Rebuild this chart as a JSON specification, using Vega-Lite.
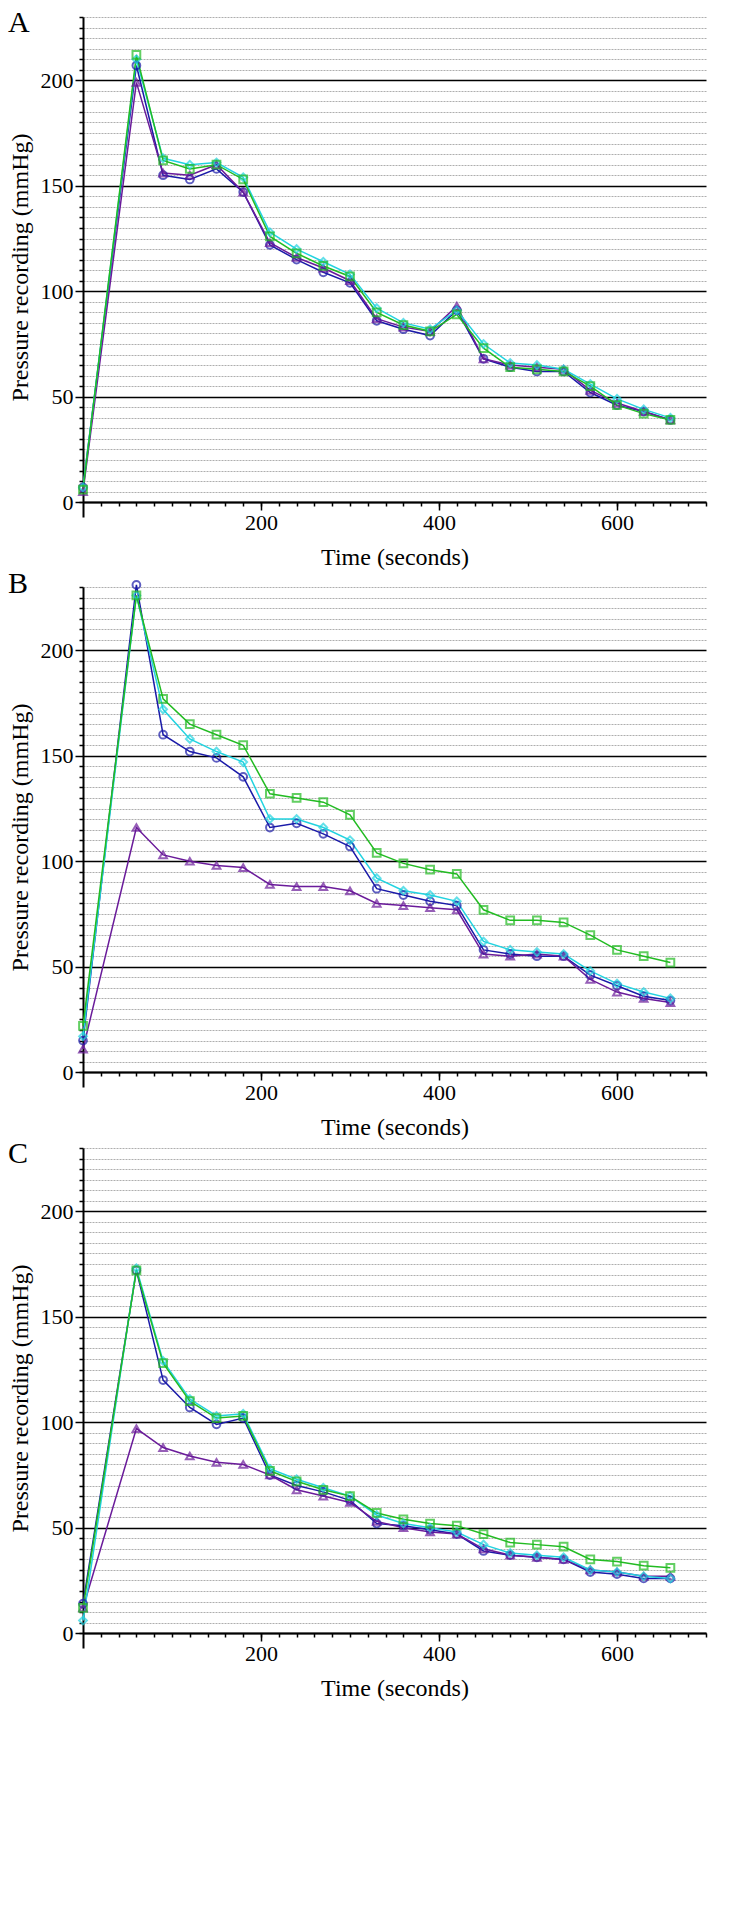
{
"$schema":"https://vega.github.io/schema/vega-lite/v6.json",
"padding":{"left":8,"top":8,"right":10,"bottom":5},
"spacing":0,
"config":{"font":"Liberation Serif","view":{"stroke":null},
 "axis":{"labelFont":"Liberation Serif","titleFont":"Liberation Serif","labelFontSize":22,"titleFontSize":24,"titleFontWeight":"normal","labelColor":"black","titleColor":"black","domainColor":"black","domainWidth":2,"tickColor":"black","tickWidth":1.5},
 "title":{"font":"Liberation Serif","fontSize":30,"fontWeight":"normal","anchor":"start","frame":"bounds","offset":-22,"color":"black"},
 "legend":{"labelFont":"Liberation Serif","labelFontSize":24,"labelColor":"black"}},
"datasets":{"d":[
{"p":"A","t":0,"Compass":7,"Stryker":5,"Meritrans":7,"Arterial line":6},
{"p":"A","t":60,"Compass":207,"Stryker":199,"Meritrans":210,"Arterial line":212},
{"p":"A","t":90,"Compass":155,"Stryker":156,"Meritrans":163,"Arterial line":162},
{"p":"A","t":120,"Compass":153,"Stryker":155,"Meritrans":160,"Arterial line":158},
{"p":"A","t":150,"Compass":158,"Stryker":160,"Meritrans":161,"Arterial line":160},
{"p":"A","t":180,"Compass":147,"Stryker":147,"Meritrans":154,"Arterial line":153},
{"p":"A","t":210,"Compass":122,"Stryker":123,"Meritrans":128,"Arterial line":126},
{"p":"A","t":240,"Compass":115,"Stryker":116,"Meritrans":120,"Arterial line":118},
{"p":"A","t":270,"Compass":109,"Stryker":111,"Meritrans":114,"Arterial line":112},
{"p":"A","t":300,"Compass":104,"Stryker":105,"Meritrans":108,"Arterial line":107},
{"p":"A","t":330,"Compass":86,"Stryker":87,"Meritrans":92,"Arterial line":90},
{"p":"A","t":360,"Compass":82,"Stryker":83,"Meritrans":85,"Arterial line":84},
{"p":"A","t":390,"Compass":79,"Stryker":81,"Meritrans":82,"Arterial line":81},
{"p":"A","t":420,"Compass":91,"Stryker":93,"Meritrans":91,"Arterial line":89},
{"p":"A","t":450,"Compass":68,"Stryker":68,"Meritrans":75,"Arterial line":73},
{"p":"A","t":480,"Compass":64,"Stryker":65,"Meritrans":66,"Arterial line":64},
{"p":"A","t":510,"Compass":62,"Stryker":64,"Meritrans":65,"Arterial line":63},
{"p":"A","t":540,"Compass":62,"Stryker":63,"Meritrans":63,"Arterial line":62},
{"p":"A","t":570,"Compass":52,"Stryker":53,"Meritrans":56,"Arterial line":55},
{"p":"A","t":600,"Compass":46,"Stryker":47,"Meritrans":49,"Arterial line":46},
{"p":"A","t":630,"Compass":43,"Stryker":43,"Meritrans":44,"Arterial line":42},
{"p":"A","t":660,"Compass":39,"Stryker":39,"Meritrans":40,"Arterial line":39},
{"p":"B","t":0,"Compass":15,"Stryker":11,"Meritrans":17,"Arterial line":22},
{"p":"B","t":60,"Compass":231,"Stryker":116,"Meritrans":226,"Arterial line":226},
{"p":"B","t":90,"Compass":160,"Stryker":103,"Meritrans":172,"Arterial line":177},
{"p":"B","t":120,"Compass":152,"Stryker":100,"Meritrans":158,"Arterial line":165},
{"p":"B","t":150,"Compass":149,"Stryker":98,"Meritrans":152,"Arterial line":160},
{"p":"B","t":180,"Compass":140,"Stryker":97,"Meritrans":147,"Arterial line":155},
{"p":"B","t":210,"Compass":116,"Stryker":89,"Meritrans":120,"Arterial line":132},
{"p":"B","t":240,"Compass":118,"Stryker":88,"Meritrans":120,"Arterial line":130},
{"p":"B","t":270,"Compass":113,"Stryker":88,"Meritrans":116,"Arterial line":128},
{"p":"B","t":300,"Compass":107,"Stryker":86,"Meritrans":110,"Arterial line":122},
{"p":"B","t":330,"Compass":87,"Stryker":80,"Meritrans":92,"Arterial line":104},
{"p":"B","t":360,"Compass":84,"Stryker":79,"Meritrans":86,"Arterial line":99},
{"p":"B","t":390,"Compass":81,"Stryker":78,"Meritrans":84,"Arterial line":96},
{"p":"B","t":420,"Compass":79,"Stryker":77,"Meritrans":81,"Arterial line":94},
{"p":"B","t":450,"Compass":58,"Stryker":56,"Meritrans":62,"Arterial line":77},
{"p":"B","t":480,"Compass":56,"Stryker":55,"Meritrans":58,"Arterial line":72},
{"p":"B","t":510,"Compass":55,"Stryker":56,"Meritrans":57,"Arterial line":72},
{"p":"B","t":540,"Compass":55,"Stryker":55,"Meritrans":56,"Arterial line":71},
{"p":"B","t":570,"Compass":46,"Stryker":44,"Meritrans":48,"Arterial line":65},
{"p":"B","t":600,"Compass":41,"Stryker":38,"Meritrans":42,"Arterial line":58},
{"p":"B","t":630,"Compass":36,"Stryker":35,"Meritrans":38,"Arterial line":55},
{"p":"B","t":660,"Compass":34,"Stryker":33,"Meritrans":35,"Arterial line":52},
{"p":"C","t":0,"Compass":14,"Stryker":12,"Meritrans":6,"Arterial line":12},
{"p":"C","t":60,"Compass":172,"Stryker":97,"Meritrans":173,"Arterial line":172},
{"p":"C","t":90,"Compass":120,"Stryker":88,"Meritrans":129,"Arterial line":128},
{"p":"C","t":120,"Compass":107,"Stryker":84,"Meritrans":111,"Arterial line":110},
{"p":"C","t":150,"Compass":99,"Stryker":81,"Meritrans":103,"Arterial line":102},
{"p":"C","t":180,"Compass":102,"Stryker":80,"Meritrans":104,"Arterial line":103},
{"p":"C","t":210,"Compass":75,"Stryker":75,"Meritrans":78,"Arterial line":77},
{"p":"C","t":240,"Compass":70,"Stryker":68,"Meritrans":73,"Arterial line":72},
{"p":"C","t":270,"Compass":67,"Stryker":65,"Meritrans":69,"Arterial line":68},
{"p":"C","t":300,"Compass":63,"Stryker":62,"Meritrans":65,"Arterial line":65},
{"p":"C","t":330,"Compass":52,"Stryker":53,"Meritrans":56,"Arterial line":57},
{"p":"C","t":360,"Compass":51,"Stryker":50,"Meritrans":52,"Arterial line":54},
{"p":"C","t":390,"Compass":49,"Stryker":48,"Meritrans":50,"Arterial line":52},
{"p":"C","t":420,"Compass":47,"Stryker":47,"Meritrans":48,"Arterial line":51},
{"p":"C","t":450,"Compass":39,"Stryker":40,"Meritrans":42,"Arterial line":47},
{"p":"C","t":480,"Compass":37,"Stryker":37,"Meritrans":38,"Arterial line":43},
{"p":"C","t":510,"Compass":36,"Stryker":36,"Meritrans":37,"Arterial line":42},
{"p":"C","t":540,"Compass":35,"Stryker":35,"Meritrans":36,"Arterial line":41},
{"p":"C","t":570,"Compass":29,"Stryker":30,"Meritrans":30,"Arterial line":35},
{"p":"C","t":600,"Compass":28,"Stryker":29,"Meritrans":29,"Arterial line":34},
{"p":"C","t":630,"Compass":26,"Stryker":27,"Meritrans":27,"Arterial line":32},
{"p":"C","t":660,"Compass":26,"Stryker":27,"Meritrans":26,"Arterial line":31}
]},
"vconcat":[
{"title":"A","width":623,"height":500,"data":{"name":"d"},
 "transform":[{"filter":"datum.p==='A'"},{"fold":["Compass","Stryker","Meritrans","Arterial line"],"as":["device","value"]}],
 "resolve":{"axis":{"y":"independent","x":"independent"}},
 "layer":[
 {"mark":{"type":"line","strokeWidth":1.5},"encoding":{
  "x":{"field":"t","type":"quantitative","scale":{"domain":[0,700],"nice":false},"axis":{"orient":"bottom","offset":-15,"values":[200,400,600],"grid":false,"tickSize":8,"title":"Time (seconds)","titlePadding":12}},
  "y":{"field":"value","type":"quantitative","scale":{"domain":[-7,230],"nice":false,"zero":false},"axis":{"orient":"left","values":[0,50,100,150,200],"grid":true,"gridColor":"black","gridWidth":1.5,"tickSize":8,"title":"Pressure recording (mmHg)","titlePadding":8}},
  "color":{"field":"device","type":"nominal","sort":["Compass","Stryker","Meritrans","Arterial line"],"scale":{"domain":["Compass","Stryker","Meritrans","Arterial line"],"range":["#1a1aa8","#6a1b9a","#22d3e0","#22bb22"]},"legend":null}}},
 {"mark":{"type":"point","filled":false,"strokeWidth":2,"size":60},"encoding":{
  "x":{"field":"t","type":"quantitative","axis":{"orient":"bottom","offset":-15,"values":[20,40,60,80,100,120,140,160,180,200,220,240,260,280,300,320,340,360,380,400,420,440,460,480,500,520,540,560,580,600,620,640,660,680,700],"labels":false,"domain":false,"tickSize":4,"grid":false,"title":null}},
  "y":{"field":"value","type":"quantitative","axis":{"orient":"left","values":[0,5,10,15,20,25,30,35,40,45,55,60,65,70,75,80,85,90,95,105,110,115,120,125,130,135,140,145,155,160,165,170,175,180,185,190,195,205,210,215,220,225,230],"labels":false,"domain":false,"tickSize":4,"grid":true,"gridColor":"#999","gridDash":[2,1],"gridWidth":0.8,"title":null}},
  "color":{"field":"device","type":"nominal","sort":["Compass","Stryker","Meritrans","Arterial line"],"legend":{"orient":"bottom","direction":"horizontal","title":null,"symbolStrokeWidth":2.5,"symbolSize":200,"columnPadding":22}},
  "shape":{"field":"device","type":"nominal","sort":["Compass","Stryker","Meritrans","Arterial line"],"scale":{"domain":["Compass","Stryker","Meritrans","Arterial line"],"range":["circle","triangle-up","diamond","square"]},"legend":null}}}
 ]},
{"title":"B","width":623,"height":500,"data":{"name":"d"},
 "transform":[{"filter":"datum.p==='B'"},{"fold":["Compass","Stryker","Meritrans","Arterial line"],"as":["device","value"]}],
 "resolve":{"axis":{"y":"independent","x":"independent"}},
 "layer":[
 {"mark":{"type":"line","strokeWidth":1.5},"encoding":{
  "x":{"field":"t","type":"quantitative","scale":{"domain":[0,700],"nice":false},"axis":{"orient":"bottom","offset":-15,"values":[200,400,600],"grid":false,"tickSize":8,"title":"Time (seconds)","titlePadding":12}},
  "y":{"field":"value","type":"quantitative","scale":{"domain":[-7,230],"nice":false,"zero":false},"axis":{"orient":"left","values":[0,50,100,150,200],"grid":true,"gridColor":"black","gridWidth":1.5,"tickSize":8,"title":"Pressure recording (mmHg)","titlePadding":8}},
  "color":{"field":"device","type":"nominal","sort":["Compass","Stryker","Meritrans","Arterial line"],"legend":null}}},
 {"mark":{"type":"point","filled":false,"strokeWidth":2,"size":60},"encoding":{
  "x":{"field":"t","type":"quantitative","axis":{"orient":"bottom","offset":-15,"values":[20,40,60,80,100,120,140,160,180,200,220,240,260,280,300,320,340,360,380,400,420,440,460,480,500,520,540,560,580,600,620,640,660,680,700],"labels":false,"domain":false,"tickSize":4,"grid":false,"title":null}},
  "y":{"field":"value","type":"quantitative","axis":{"orient":"left","values":[0,5,10,15,20,25,30,35,40,45,55,60,65,70,75,80,85,90,95,105,110,115,120,125,130,135,140,145,155,160,165,170,175,180,185,190,195,205,210,215,220,225,230],"labels":false,"domain":false,"tickSize":4,"grid":true,"gridColor":"#999","gridDash":[2,1],"gridWidth":0.8,"title":null}},
  "color":{"field":"device","type":"nominal","sort":["Compass","Stryker","Meritrans","Arterial line"]},
  "shape":{"field":"device","type":"nominal","sort":["Compass","Stryker","Meritrans","Arterial line"],"legend":null}}}
 ]},
{"title":"C","width":623,"height":500,"data":{"name":"d"},
 "transform":[{"filter":"datum.p==='C'"},{"fold":["Compass","Stryker","Meritrans","Arterial line"],"as":["device","value"]}],
 "resolve":{"axis":{"y":"independent","x":"independent"}},
 "layer":[
 {"mark":{"type":"line","strokeWidth":1.5},"encoding":{
  "x":{"field":"t","type":"quantitative","scale":{"domain":[0,700],"nice":false},"axis":{"orient":"bottom","offset":-15,"values":[200,400,600],"grid":false,"tickSize":8,"title":"Time (seconds)","titlePadding":12}},
  "y":{"field":"value","type":"quantitative","scale":{"domain":[-7,230],"nice":false,"zero":false},"axis":{"orient":"left","values":[0,50,100,150,200],"grid":true,"gridColor":"black","gridWidth":1.5,"tickSize":8,"title":"Pressure recording (mmHg)","titlePadding":8}},
  "color":{"field":"device","type":"nominal","sort":["Compass","Stryker","Meritrans","Arterial line"],"legend":null}}},
 {"mark":{"type":"point","filled":false,"strokeWidth":2,"size":60},"encoding":{
  "x":{"field":"t","type":"quantitative","axis":{"orient":"bottom","offset":-15,"values":[20,40,60,80,100,120,140,160,180,200,220,240,260,280,300,320,340,360,380,400,420,440,460,480,500,520,540,560,580,600,620,640,660,680,700],"labels":false,"domain":false,"tickSize":4,"grid":false,"title":null}},
  "y":{"field":"value","type":"quantitative","axis":{"orient":"left","values":[0,5,10,15,20,25,30,35,40,45,55,60,65,70,75,80,85,90,95,105,110,115,120,125,130,135,140,145,155,160,165,170,175,180,185,190,195,205,210,215,220,225,230],"labels":false,"domain":false,"tickSize":4,"grid":true,"gridColor":"#999","gridDash":[2,1],"gridWidth":0.8,"title":null}},
  "color":{"field":"device","type":"nominal","sort":["Compass","Stryker","Meritrans","Arterial line"]},
  "shape":{"field":"device","type":"nominal","sort":["Compass","Stryker","Meritrans","Arterial line"],"legend":null}}}
 ]}
]}
